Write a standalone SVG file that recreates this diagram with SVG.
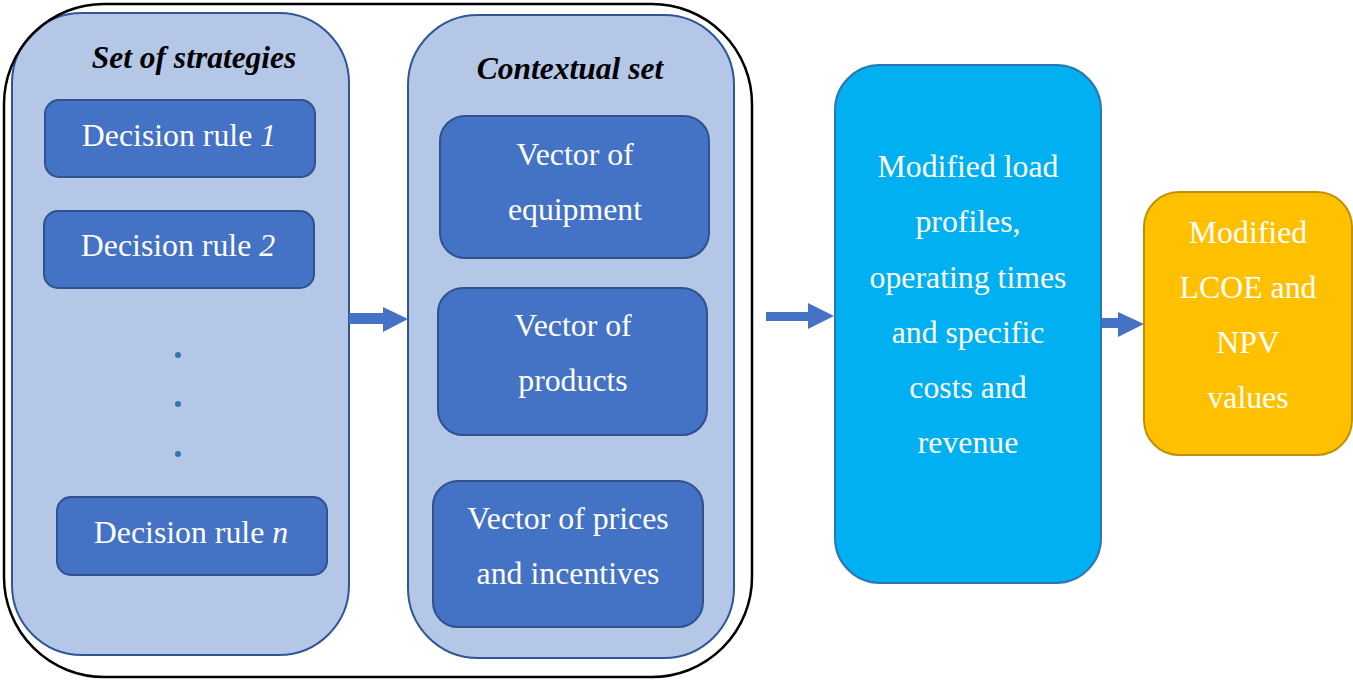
<svg xmlns="http://www.w3.org/2000/svg" width="1353" height="680" viewBox="0 0 1353 680">
  <style>
    .panel { fill: #B4C7E7; stroke: #2F5597; stroke-width: 2; }
    .item { fill: #4472C4; stroke: #2F528F; stroke-width: 2; }
    .txt { font-family: "Liberation Serif", "Times New Roman", serif; font-size: 31.8px; fill: #FFFFFF; text-anchor: middle; }
    .head { font-family: "Liberation Serif", "Times New Roman", serif; font-size: 31.5px; font-weight: bold; font-style: italic; fill: #000000; text-anchor: middle; }
    .arrow { fill: #4472C4; }
    .dot { fill: #2E75B6; }
  </style>

  <!-- panels sit under the enclosing frame -->
  <g id="strategies">
    <rect class="panel" x="12" y="13" width="337" height="642" rx="70" ry="70"/>
    <text class="head" x="194" y="68">Set of strategies</text>
  </g>

  <g id="rule-1">
    <rect class="item" x="45" y="100" width="270" height="77" rx="14" ry="14"/>
    <text class="txt" x="179" y="146">Decision rule <tspan font-style="italic">1</tspan></text>
  </g>
  <g id="rule-2">
    <rect class="item" x="44" y="211" width="270" height="77" rx="14" ry="14"/>
    <text class="txt" x="178" y="256">Decision rule <tspan font-style="italic">2</tspan></text>
  </g>
  <g id="ellipsis">
    <circle class="dot" cx="178" cy="355" r="3"/>
    <circle class="dot" cx="178" cy="404" r="3"/>
    <circle class="dot" cx="178" cy="454" r="3"/>
  </g>
  <g id="rule-n">
    <rect class="item" x="57" y="497" width="270" height="78" rx="14" ry="14"/>
    <text class="txt" x="191" y="543">Decision rule <tspan font-style="italic">n</tspan></text>
  </g>

  <g id="contextual">
    <rect class="panel" x="408" y="15" width="326" height="643" rx="70" ry="70"/>
    <text class="head" x="570" y="79">Contextual set</text>
  </g>
  <g id="equipment">
    <rect class="item" x="440" y="116" width="269" height="142" rx="25" ry="25"/>
    <text class="txt" x="575" y="165">Vector of</text>
    <text class="txt" x="575" y="220">equipment</text>
  </g>
  <g id="products">
    <rect class="item" x="438" y="288" width="269" height="147" rx="25" ry="25"/>
    <text class="txt" x="573" y="336">Vector of</text>
    <text class="txt" x="573" y="391">products</text>
  </g>
  <g id="prices">
    <rect class="item" x="433" y="481" width="270" height="146" rx="25" ry="25"/>
    <text class="txt" x="568" y="529">Vector of prices</text>
    <text class="txt" x="568" y="584">and incentives</text>
  </g>

  <!-- enclosing frame around both sets -->
  <g id="frame">
    <rect x="4" y="4" width="748" height="673" rx="100" ry="100" fill="none" stroke="#000000" stroke-width="2.5"/>
  </g>

  <g id="outcomes">
    <rect x="835" y="65" width="266" height="518" rx="45" ry="45" fill="#00B0F0" stroke="#2E75B6" stroke-width="2"/>
    <text class="txt" x="968" y="177">Modified load</text>
    <text class="txt" x="968" y="232">profiles,</text>
    <text class="txt" x="968" y="288">operating times</text>
    <text class="txt" x="968" y="343">and specific</text>
    <text class="txt" x="968" y="398">costs and</text>
    <text class="txt" x="968" y="453">revenue</text>
  </g>

  <g id="metrics">
    <rect x="1144" y="192" width="208" height="263" rx="35" ry="35" fill="#FFC000" stroke="#BF9000" stroke-width="2"/>
    <text class="txt" x="1248" y="243">Modified</text>
    <text class="txt" x="1248" y="298">LCOE and</text>
    <text class="txt" x="1248" y="353">NPV</text>
    <text class="txt" x="1248" y="408">values</text>
  </g>

  <g id="connectors">
    <polygon class="arrow" points="349,313 383,313 383,307 408,319 383,332 383,324 349,324"/>
    <polygon class="arrow" points="766,312 808,312 808,303 834,316 808,329 808,321 766,321"/>
    <polygon class="arrow" points="1102,318 1118,318 1118,312 1144,324 1118,337 1118,328 1102,328"/>
  </g>
</svg>
